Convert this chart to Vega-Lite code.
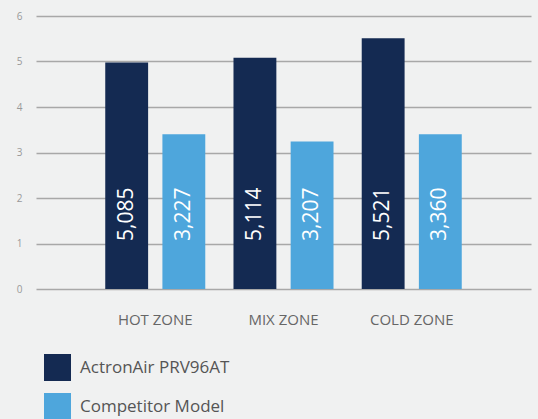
{
  "$schema": "https://vega.github.io/schema/vega-lite/v6.json",
  "autosize": "none",
  "width": 495,
  "height": 273,
  "padding": {"left": 36, "top": 16, "right": 7, "bottom": 130},
  "background": "#f0f1f1",
  "config": {"view": {"stroke": null}, "font": "Open Sans"},
  "data": {
    "values": [
      {"zone": "HOT ZONE", "model": "ActronAir PRV96AT", "height": 4.98, "label": "5,085"},
      {"zone": "HOT ZONE", "model": "Competitor Model", "height": 3.40, "label": "3,227"},
      {"zone": "MIX ZONE", "model": "ActronAir PRV96AT", "height": 5.08, "label": "5,114"},
      {"zone": "MIX ZONE", "model": "Competitor Model", "height": 3.24, "label": "3,207"},
      {"zone": "COLD ZONE", "model": "ActronAir PRV96AT", "height": 5.51, "label": "5,521"},
      {"zone": "COLD ZONE", "model": "Competitor Model", "height": 3.40, "label": "3,360"}
    ]
  },
  "encoding": {
    "x": {
      "field": "zone", "type": "nominal", "sort": ["HOT ZONE", "MIX ZONE", "COLD ZONE"],
      "scale": {"paddingInner": 0.22, "paddingOuter": 0.54},
      "axis": {"title": null, "domain": false, "ticks": false, "labelAngle": 0, "labelFontSize": 15, "labelColor": "#666666", "labelPadding": 23, "labelDx": -7}
    },
    "xOffset": {"field": "model", "type": "nominal", "scale": {"paddingInner": 0.25, "paddingOuter": 0}}
  },
  "layer": [
    {
      "mark": {"type": "bar"},
      "encoding": {
        "y": {
          "field": "height", "type": "quantitative",
          "scale": {"domain": [0, 6], "nice": false},
          "axis": {"title": null, "values": [0, 1, 2, 3, 4, 5, 6], "domain": false, "ticks": false, "labelFontSize": 10, "labelColor": "#999999", "labelPadding": 14, "gridColor": "#a8a8a8", "gridWidth": 1.3}
        },
        "color": {
          "field": "model", "type": "nominal",
          "scale": {"domain": ["ActronAir PRV96AT", "Competitor Model"], "range": ["#142a52", "#4ea6dc"]},
          "legend": {"title": null, "orient": "none", "legendX": 8, "legendY": 338, "direction": "vertical", "symbolType": "square", "symbolSize": 729, "symbolStrokeWidth": 0, "labelFontSize": 17, "labelColor": "#555555", "labelOffset": 9, "rowPadding": 12}
        }
      }
    },
    {
      "mark": {"type": "text", "angle": 270, "align": "left", "baseline": "middle", "dx": 48, "color": "white", "fontSize": 21},
      "encoding": {
        "y": {"datum": 0},
        "text": {"field": "label"}
      }
    }
  ]
}
